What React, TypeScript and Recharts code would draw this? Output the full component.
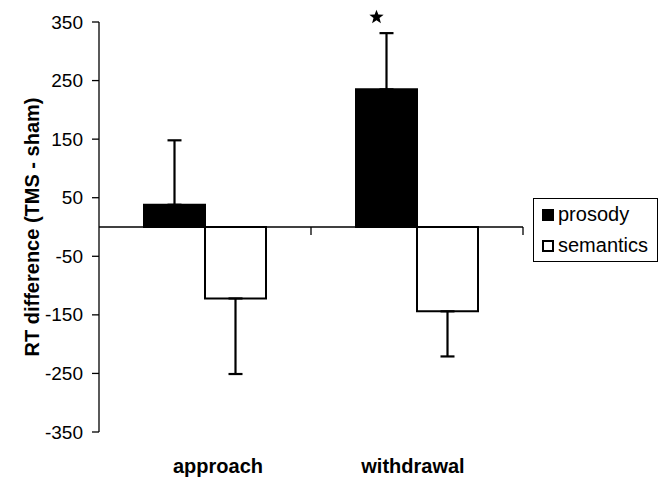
import React from 'react'
import { BarChart, Bar, XAxis, YAxis, ErrorBar, ReferenceLine, Legend, LabelList } from 'recharts';

const categories = ['approach', 'withdrawal'];
const prosody = [38, 235];
const semantics = [-122, -144];
const prosodyErrUp = [110, 96];
const semanticsErrDown = [129, 77];
const significant = [false, true];
const yTicks = [-350, -250, -150, -50, 50, 150, 250, 350];

const FONT = 'Arial, "Liberation Sans", sans-serif';

const data = categories.map((name, i) => ({
    name,
    prosody: prosody[i],
    semantics: semantics[i],
    prosodyErr: [0, prosodyErrUp[i]],
    semanticsErr: [semanticsErrDown[i], 0],
}));

// category labels are not quite centred in the original
const tickShift = [13, -4];

const XTick = (props: any) => {
    const { x, y, payload, index } = props;
    return (
        <text x={x + tickShift[index]} y={y} dy="0.71em" textAnchor="middle"
            fontWeight="bold" fontSize={20} fill="#000" fontFamily={FONT}>
            {payload.value}
        </text>
    );
};

const YTick = (props: any) => {
    const { x, y, payload } = props;
    return (
        <text x={x} y={y} textAnchor="end" dominantBaseline="central"
            fontSize={19} fill="#000" fontFamily={FONT}>
            {payload.value}
        </text>
    );
};

// zero line with the little category separator ticks hanging below it
const ZeroLine = (props: any) => {
    const { x1, y1, x2, y2 } = props;
    const mid = (x1 + x2) / 2;
    return (
        <g>
            <line x1={x1} y1={y1} x2={x2} y2={y2} stroke="#000" strokeWidth={1.3} />
            <line x1={mid} y1={y1} x2={mid} y2={y1 + 8} stroke="#000" strokeWidth={1.3} />
            <line x1={x2} y1={y1} x2={x2} y2={y1 + 8} stroke="#000" strokeWidth={1.3} />
        </g>
    );
};

const starPoints = (cx: number, cy: number, r: number) => {
    const pts: string[] = [];
    for (let k = 0; k < 10; k++) {
        const rad = k % 2 === 0 ? r : r * 0.42;
        const a = -Math.PI / 2 + (k * Math.PI) / 5;
        pts.push(`${cx + rad * Math.cos(a)},${cy + rad * Math.sin(a)}`);
    }
    return pts.join(' ');
};

const StarLabel = (props: any) => {
    const { index, value } = props;
    if (!significant[index]) return null;
    const vb = props.viewBox ?? props;
    const { x, y, width, height } = vb;
    const pxPerUnit = Math.abs(height) / Math.abs(value);
    const capY = y - prosodyErrUp[index] * pxPerUnit;
    return <polygon points={starPoints(x + width / 2 - 10, capY - 16, 7.5)} fill="#000" />;
};

const LegendBox = () => (
    <div style={{
        boxSizing: 'border-box', width: 125, height: 64, border: '1px solid #000',
        fontFamily: FONT, fontSize: 20, color: '#000', background: '#fff', paddingLeft: 8,
    }}>
        {[
            { label: 'prosody', fill: '#000' },
            { label: 'semantics', fill: '#fff' },
        ].map((item) => (
            <div key={item.label} style={{ display: 'flex', alignItems: 'center', height: 31 }}>
                <span style={{
                    display: 'inline-block', boxSizing: 'border-box', width: 12, height: 12,
                    background: item.fill, border: '2px solid #000', marginRight: 4,
                }} />
                <span>{item.label}</span>
            </div>
        ))}
    </div>
);

const errStyle = { stroke: '#000', strokeWidth: 2.2 };

const App = () => {
    return (
        <div style={{ position: 'absolute', left: 0, top: 0, fontFamily: FONT }}>
            <BarChart width={658} height={479} data={data}
                margin={{ top: 22, right: 135, bottom: 0, left: 0 }}
                barGap={0} barSize={61}>
                <XAxis dataKey="name" axisLine={false} tickLine={false} height={47}
                    tickMargin={21} tick={<XTick />} interval={0} />
                <YAxis width={99} domain={[-350, 350]} ticks={yTicks} interval={0}
                    axisLine={{ stroke: '#000', strokeWidth: 1.3 }}
                    tickLine={{ stroke: '#000', strokeWidth: 1.3 }}
                    tickSize={7} tickMargin={9}
                    tick={<YTick />}
                    label={{
                        position: 'insideLeft',
                        content: (p: any) => {
                            const vb = p.viewBox;
                            const cy = vb.y + vb.height / 2;
                            return (
                                <text x={32} y={cy} transform={`rotate(-90, 32, ${cy})`}
                                    textAnchor="middle" dominantBaseline="central"
                                    fontWeight="bold" fontSize={20} fill="#000" fontFamily={FONT}>
                                    RT difference (TMS - sham)
                                </text>
                            );
                        },
                    }} />
                <Legend layout="vertical" align="center" verticalAlign="middle"
                    wrapperStyle={{ left: 533, top: 198, width: 125 }}
                    content={<LegendBox />} />
                <Bar dataKey="prosody" fill="#000" stroke="#000" strokeWidth={2} isAnimationActive={false}>
                    <ErrorBar dataKey="prosodyErr" direction="y" width={7} stroke="#000" strokeWidth={2.2}
                        style={errStyle} isAnimationActive={false} />
                    <LabelList dataKey="prosody" content={<StarLabel />} />
                </Bar>
                <Bar dataKey="semantics" fill="#fff" stroke="#000" strokeWidth={2} isAnimationActive={false}>
                    <ErrorBar dataKey="semanticsErr" direction="y" width={7} stroke="#000" strokeWidth={2.2}
                        style={errStyle} isAnimationActive={false} />
                </Bar>
                <ReferenceLine y={0} stroke="#000" shape={<ZeroLine />} />
            </BarChart>
        </div>
    );
};

export default App;
